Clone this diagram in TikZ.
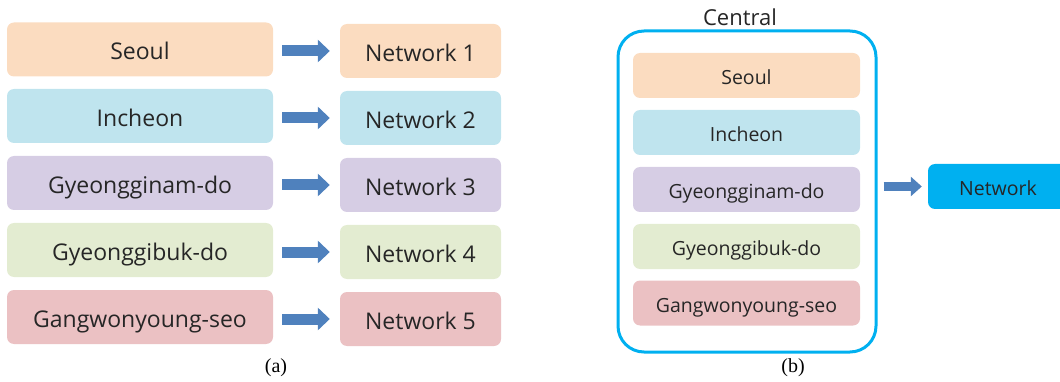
\documentclass[tikz,border=0pt]{standalone}
\usepackage{fontspec}
\setmainfont{Liberation Serif}
\newfontfamily\boxfont{Open Sans}
\usetikzlibrary{arrows.meta}
\definecolor{cSeoul}{HTML}{FBDCC0}
\definecolor{cInch}{HTML}{BFE4EE}
\definecolor{cNam}{HTML}{D6CDE4}
\definecolor{cBuk}{HTML}{E3ECD1}
\definecolor{cGang}{HTML}{EBC1C3}
\definecolor{cCyan}{HTML}{00B0F0}
\definecolor{cArrow}{HTML}{4F81BD}
\definecolor{cText}{HTML}{262626}
\tikzset{
  boxbase/.style={rounded corners=7pt, inner sep=0pt, text=cText, text depth=0pt},
  region/.style={boxbase, text height=21pt, minimum width=266pt, minimum height=54pt, font=\boxfont\fontsize{23}{26}\selectfont},
  netbox/.style={boxbase, text height=21pt, minimum width=161pt, minimum height=54pt, font=\boxfont\fontsize{23}{26}\selectfont},
  sregion/.style={boxbase, text height=18pt, minimum width=227pt, minimum height=45pt, font=\boxfont\fontsize{19.5}{23}\selectfont},
  fatarrow/.style={draw=cArrow, line width=11pt, -{Triangle[length=12pt,width=22pt]}},
  caption/.style={font=\fontsize{20}{23}\selectfont, text=black}
}
\begin{document}
\begin{tikzpicture}[x=1pt,y=-1pt]
\useasboundingbox (0,0) rectangle (1060,382);
\clip (0,0) rectangle (1060,382);
% (a)
\node[region, fill=cSeoul] (s1) at (140,49.5) {Seoul};
\node[region, fill=cInch] (s2) at (140,116) {Incheon};
\node[region, fill=cNam] (s3) at (140,183) {Gyeongginam-do};
\node[region, fill=cBuk] (s4) at (140,250) {Gyeonggibuk-do};
\node[region, fill=cGang] (s5) at (140,317) {Gangwonyoung-seo};
\node[netbox, fill=cSeoul] (n1) at (420.5,51) {Network 1};
\node[netbox, fill=cInch] (n2) at (420.5,118) {Network 2};
\node[netbox, fill=cNam] (n3) at (420.5,185) {Network 3};
\node[netbox, fill=cBuk] (n4) at (420.5,252) {Network 4};
\node[netbox, fill=cGang] (n5) at (420.5,319) {Network 5};
\foreach \i in {1,...,5}{
  \draw[fatarrow, shorten <=9pt, shorten >=10pt] (s\i.east |- n\i.west) -- (n\i.west);
}
\node[caption] (capa) at (276,368) {(a)};
% (b)
\node[draw=cCyan, line width=3pt, rounded corners=26pt, minimum width=258pt, minimum height=321pt, inner sep=0pt] (central) at (747,191.5) {};
\node[font=\boxfont\fontsize{22}{26}\selectfont, text=cText] (ctitle) at (740,17) {Central};
\node[sregion, fill=cSeoul] (r1) at (746.5,75.5) {Seoul};
\node[sregion, fill=cInch] (r2) at (746.5,132.5) {Incheon};
\node[sregion, fill=cNam] (r3) at (746.5,189.5) {Gyeongginam-do};
\node[sregion, fill=cBuk] (r4) at (746.5,246.5) {Gyeonggibuk-do};
\node[sregion, fill=cGang] (r5) at (746.5,303) {Gangwonyoung-seo};
\node[boxbase, text height=18pt, fill=cCyan, minimum width=140pt, minimum height=45pt, font=\boxfont\fontsize{19.5}{23}\selectfont] (net) at (998,186.5) {Network};
\draw[fatarrow, line width=9pt, -{Triangle[length=11pt,width=19pt]}, shorten <=6pt, shorten >=6pt] (central.east |- net.west) -- (net.west);
\node[caption] (capb) at (793,368) {(b)};
\end{tikzpicture}
\end{document}
